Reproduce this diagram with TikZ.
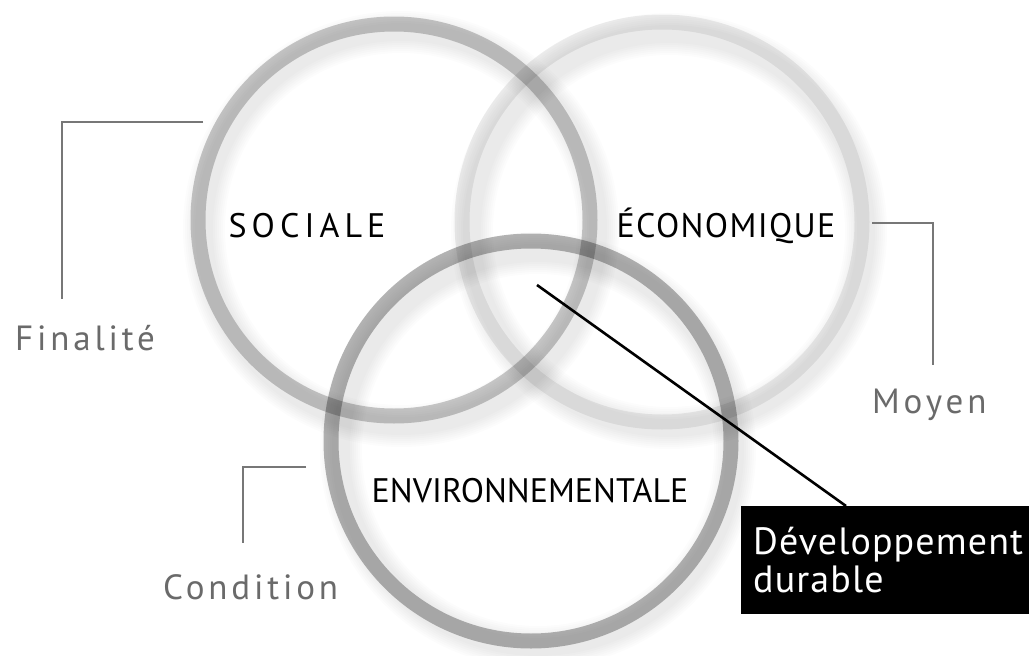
\documentclass[tikz,border=0pt]{standalone}
\usepackage{fontspec}
\setmainfont{PT Sans}
\newfontfamily\labfont[LetterSpace=11]{PT Sans}
\newfontfamily\socfont[LetterSpace=15]{PT Sans}
\newfontfamily\ecofont[LetterSpace=4]{PT Sans}
\newfontfamily\boxfont[LetterSpace=3]{PT Sans}
\usetikzlibrary{calc}
\definecolor{bracketgray}{HTML}{777777}
\definecolor{labelgray}{HTML}{6A6A6A}
\tikzset{
  ring/.style={line width=15pt, draw=black, draw opacity=#1},
  ringshadow/.style={draw=black, draw opacity=0.013},
  bracket/.style={draw=bracketgray, line width=2.2pt},
  circlabel/.style={font=\fontsize{34}{40}\selectfont, text=black, inner sep=0pt, anchor=base},
  sidelabel/.style={font=\labfont\fontsize{35}{40}\selectfont, text=labelgray, inner sep=0pt, anchor=base west},
  dbox/.style={fill=black, text=white, font=\boxfont\fontsize{38}{38}\selectfont, align=left,
     text width=264pt, inner xsep=12pt, inner ysep=21pt, anchor=north west},
  pointer/.style={draw=black, line width=2.6pt}
}
\begin{document}
\begin{tikzpicture}[x=1pt,y=-1pt]
\useasboundingbox (0,0) rectangle (1029,656);
\fill[white] (0,0) rectangle (1029,656);
% centres
\coordinate (cs) at (394,220);
\coordinate (ce) at (662,222);
\coordinate (cv) at (531,441);
% soft shadows
\foreach \c in {cs,ce,cv}{
  \foreach \w in {18,22,26,30,34,38,42}{
    \draw[ringshadow, line width=\w pt] ($(\c)+(7,9)$) circle[radius=197];
  }
}
% rings
\draw[ring=0.07] (ce) circle[radius=200];
\draw[ring=0.21] (cs) circle[radius=196];
\draw[ring=0.29] (cv) circle[radius=200];
% circle labels
\node[circlabel, font=\socfont\fontsize{34}{40}\selectfont] (soc) at (307,237) {SOCIALE};
\node[circlabel, font=\ecofont\fontsize{34}{40}\selectfont] (eco) at (726,237) {ÉCONOMIQUE};
\node[circlabel] (env) at (530,502) {ENVIRONNEMENTALE};
% side labels and brackets
\node[sidelabel] (fin) at (15,350) {Finalité};
\node[sidelabel] (moy) at (872,413) {Moyen};
\node[sidelabel] (cond) at (163,599) {Condition};
\coordinate (fin1) at (203,122);
\coordinate (fin2) at (62,299);
\coordinate (moy1) at (872,223);
\coordinate (moy2) at (933,365);
\coordinate (cond1) at (306,467);
\coordinate (cond2) at (243,543);
\draw[bracket] (fin1) -| (fin2);
\draw[bracket] (moy1) -| (moy2);
\draw[bracket] (cond1) -| (cond2);
% developpement durable
\node[dbox] (box) at (741,506) {Développement\\durable};
\coordinate (dd) at (537,285);
\draw[pointer] (dd) -- ($(box.north west)+(105,0)$);
\end{tikzpicture}
\end{document}
